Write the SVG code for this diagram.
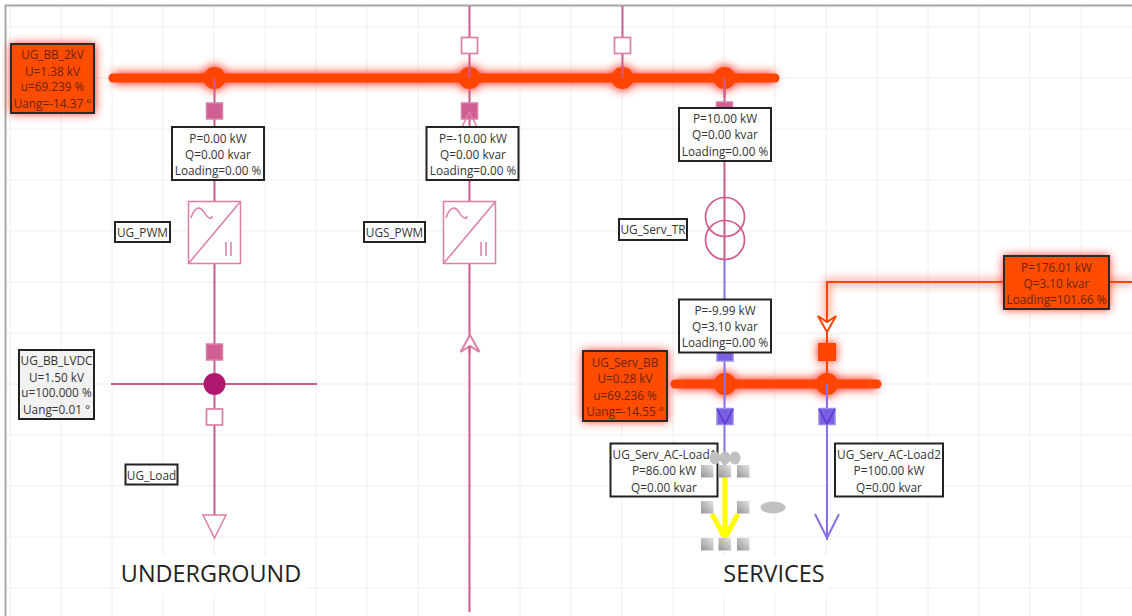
<svg xmlns="http://www.w3.org/2000/svg" width="1132" height="616" viewBox="0 0 1132 616">
<defs>
<filter id="glow" x="-30%" y="-60%" width="160%" height="220%"><feGaussianBlur stdDeviation="5"/></filter>
<linearGradient id="hg" x1="0" y1="1" x2="1" y2="0"><stop offset="0" stop-color="#959595"/><stop offset="1" stop-color="#e4e4e4"/></linearGradient>
<g id="conv"><rect x="0.5" y="0.5" width="52" height="62" class="sym"/><path d="M0.5 62.500L52.500 0.500M3 17C7 5 12 5 16 11C20 18 24 19 24 15M38 41V55M43 41V55" class="symn"/></g>
<rect id="hd" width="12.500" height="12.500" fill="url(#hg)"/>
</defs>
<style>
text{font-family:"Open Sans","Noto Sans","Liberation Sans",sans-serif;font-size:11.800px;fill:#333;text-anchor:middle}
.g{stroke:#eeeeee;stroke-width:1;fill:none}
.sym{fill:#fff;stroke:#dc7ea6;stroke-width:1.500}
.symn{fill:none;stroke:#dc7ea6;stroke-width:1.500}
.pk{stroke:#cf5a8e;stroke-width:2;fill:none}
.bl{stroke:#8a70e6;stroke-width:2;fill:none}
.or{stroke:#ff4500;stroke-width:2;fill:none}
.bar{stroke:#ff4500;stroke-width:9;stroke-linecap:round;fill:none}
.lb{fill:#fff;stroke:#222;stroke-width:2}
.hot{fill:#ff4c00;stroke:#2a2a2a;stroke-width:2}
.hott{fill:#6a2408}
.sw{fill:#fff;stroke:#dc7ea6;stroke-width:1.700}
.sp{fill:#cf5f92;stroke:#dc7ea6;stroke-width:1.500}
.sb{fill:#7a5fe0;stroke:#9c88ea;stroke-width:1.500}
.title{font-size:23.400px;fill:#222}
</style>
<rect width="1132" height="616" fill="#fff"/>
<g id="grid">
<path class="g" d="M10 6V616M61 6V616M112 6V616M163 6V616M214 6V616M265 6V616M316 6V616M367 6V616M418 6V616M469 6V616M520 6V616M571 6V616M622 6V616M673 6V616M724 6V616M775 6V616M826 6V616M877 6V616M928 6V616M979 6V616M1030 6V616M1081 6V616M6 27H1132M6 78H1132M6 129H1132M6 180H1132M6 231H1132M6 282H1132M6 333H1132M6 384H1132M6 435H1132M6 486H1132M6 537H1132M6 588H1132"/>
<rect x="120" y="556" width="186" height="38" fill="#fff"/>
<rect x="722" y="556" width="106" height="38" fill="#fff"/>
<path d="M5.500 616V5.500H1132" fill="none" stroke="#a6a6a6" stroke-width="2"/>
</g>
<g id="glows" filter="url(#glow)" fill="#ff3020" stroke="#ff3020">
<path d="M113 78H775M675 384H877" stroke-width="11" fill="none"/>
<circle cx="214.500" cy="78" r="12"/><circle cx="469.500" cy="78" r="12"/><circle cx="622.500" cy="78" r="12"/><circle cx="724.500" cy="78" r="12"/><circle cx="725" cy="384" r="12"/><circle cx="827" cy="384" r="12"/>
<rect x="11" y="44" width="84" height="69"/><rect x="583" y="351" width="84" height="70"/><rect x="1004" y="256" width="105" height="53"/>
<path d="M827 320V282H1004M1109 282H1132" fill="none" stroke-width="3"/>
<rect x="818" y="343" width="18" height="18"/>
</g>
<g id="connectors">
<path class="pk" d="M214.500 78V515M469.500 6V612M622.500 6V78M724.500 78V260"/>
<path class="pk" d="M111 384H317"/>
<path class="bl" d="M724.500 260V540M827 384V540"/>
<path class="or" d="M827 384V282H1132"/>
</g>
<g id="bus-UG_BB_2kV"><path class="bar" d="M113 78H775"/><circle cx="214.500" cy="78" r="11" fill="#ff4500"/><circle cx="469.500" cy="78" r="11" fill="#ff4500"/><circle cx="622.500" cy="78" r="11" fill="#ff4500"/><circle cx="724.500" cy="78" r="11" fill="#ff4500"/>
<path class="pk" d="M214.500 78V88M469.500 66V78M622.500 66V78M724.500 78V98" stroke="#b8406f"/></g>
<g id="bus-UG_Serv_BB"><path class="bar" d="M675 384H877"/><circle cx="725" cy="384" r="11" fill="#ff4500"/><circle cx="827" cy="384" r="11" fill="#ff4500"/><path class="bl" d="M725 373V395M827 384V395"/></g>
<g id="bus-UG_BB_LVDC"><circle cx="214.500" cy="384" r="11" fill="#b0186f"/></g>
<g id="sw-1"><rect x="206.500" y="103" width="16" height="16" class="sp"/></g>
<g id="sw-2"><rect x="206.500" y="344" width="16" height="16" class="sp"/></g>
<g id="sw-3"><rect x="206.500" y="409" width="16" height="16" class="sw"/></g>
<g id="sw-4"><rect x="461.500" y="37.500" width="16" height="16" class="sw"/></g>
<g id="sw-5"><rect x="614.500" y="37.500" width="16" height="16" class="sw"/></g>
<g id="sw-6"><rect x="461.500" y="103" width="16" height="16" class="sp"/><path class="symn" d="M462 127L469.500 112L477 127"/></g>
<g id="sw-7"><rect x="716.500" y="102" width="16" height="10" class="sp"/></g>
<g id="sw-8"><rect x="717" y="345" width="16" height="16" class="sb"/></g>
<g id="sw-9"><rect x="717" y="408.500" width="16" height="16" class="sb"/><path d="M717 409L725 424L733 409" fill="none" stroke="#5030c8" stroke-width="1.200"/></g>
<g id="sw-10"><rect x="819" y="408.500" width="16" height="16" class="sb"/><path d="M819 409L827 424L835 409" fill="none" stroke="#5030c8" stroke-width="1.200"/></g>
<g id="sw-11"><rect x="818" y="343" width="18" height="18" fill="#ff4500"/></g>
<g id="arrow-top"><path d="M818 316L827 332L836 316L827 322Z" fill="#fff" stroke="#ff4500" stroke-width="2"/></g>
<g id="arrow-mid"><path d="M460.500 352L470 335L479.500 352L470 346Z" fill="#fff" stroke="#dc7ea6" stroke-width="2"/><path class="pk" d="M469.500 346V353"/></g>
<g id="UG_Load_sym"><path d="M203 515H226L214.500 538Z" class="sym"/></g>
<g id="UG_PWM_sym"><use href="#conv" x="188" y="201"/></g>
<g id="UGS_PWM_sym"><use href="#conv" x="443" y="201"/></g>
<g id="UG_Serv_TR_sym"><circle cx="725" cy="217" r="19.500" fill="none" stroke="#d05a8e" stroke-width="1.700"/><circle cx="725" cy="240" r="19.500" fill="none" stroke="#d05a8e" stroke-width="1.700"/></g>
<g id="load2"><path class="bl" d="M815 514L827 538L839 514"/></g>
<g id="load1"><path d="M725 477V536M712 514L725 538L738 514" fill="none" stroke="#ffff00" stroke-width="5"/></g>
<g id="UG_BB_2kV"><rect x="11" y="44" width="83" height="69" class="hot"/><text class="hott" x="52.500" y="59">UG_BB_2kV</text><text class="hott" x="52.500" y="76">U=1.38 kV</text><text class="hott" x="52.500" y="91">u=69.239 %</text><text class="hott" x="52.500" y="108">Uang=-14.37 °</text></g>
<g id="UG_BB_LVDC"><rect x="19" y="350" width="75" height="69" fill="#f2f2f2" stroke="#222" stroke-width="2"/><text x="56.500" y="365">UG_BB_LVDC</text><text x="56.500" y="382">U=1.50 kV</text><text x="56.500" y="397">u=100.000 %</text><text x="56.500" y="414">Uang=0.01 °</text></g>
<g id="UG_Serv_BB"><rect x="583" y="351" width="84" height="70" class="hot"/><text class="hott" x="625" y="367">UG_Serv_BB</text><text class="hott" x="625" y="383">U=0.28 kV</text><text class="hott" x="625" y="400">u=69.236 %</text><text class="hott" x="625" y="416">Uang=-14.55 °</text></g>
<g id="res-1"><rect x="172" y="127" width="92" height="53" class="lb"/><text x="218" y="143">P=0.00 kW</text><text x="218" y="159">Q=0.00 kvar</text><text x="218" y="175">Loading=0.00 %</text></g>
<g id="res-2"><rect x="426.500" y="127" width="92" height="53" class="lb"/><text x="473" y="143">P=-10.00 kW</text><text x="473" y="159">Q=0.00 kvar</text><text x="473" y="175">Loading=0.00 %</text></g>
<g id="res-3"><rect x="679" y="108" width="92" height="53" class="lb"/><text x="725" y="123">P=10.00 kW</text><text x="725" y="139">Q=0.00 kvar</text><text x="725" y="156">Loading=0.00 %</text></g>
<g id="res-4"><rect x="679" y="299.500" width="92" height="53" class="lb"/><text x="725" y="315">P=-9.99 kW</text><text x="725" y="331">Q=3.10 kvar</text><text x="725" y="347">Loading=0.00 %</text></g>
<g id="res-5"><rect x="1004" y="256" width="105" height="53" class="hot"/><text class="hott" x="1056.500" y="272">P=176.01 kW</text><text class="hott" x="1056.500" y="288">Q=3.10 kvar</text><text class="hott" x="1056.500" y="304">Loading=101.66 %</text></g>
<g id="UG_Serv_AC-Load1"><rect x="610.500" y="443.500" width="107" height="53" class="lb"/><text x="664.500" y="459">UG_Serv_AC-Load1</text><text x="664" y="475">P=86.00 kW</text><text x="664" y="492">Q=0.00 kvar</text></g>
<g id="UG_Serv_AC-Load2"><rect x="835" y="443.500" width="108" height="53" class="lb"/><text x="889" y="459">UG_Serv_AC-Load2</text><text x="889" y="475">P=100.00 kW</text><text x="889" y="492">Q=0.00 kvar</text></g>
<g id="UG_PWM"><rect x="115" y="222" width="55" height="20" class="lb"/><text x="142.500" y="237">UG_PWM</text></g>
<g id="UGS_PWM"><rect x="364" y="222" width="61" height="20" class="lb"/><text x="394.500" y="237">UGS_PWM</text></g>
<g id="UG_Serv_TR"><rect x="619" y="219" width="68" height="21" class="lb"/><text x="653" y="234">UG_Serv_TR</text></g>
<g id="UG_Load"><rect x="125.500" y="464.500" width="52" height="20" class="lb"/><text x="151.500" y="480">UG_Load</text></g>
<g id="handles" fill="#c0c0c0">
<ellipse cx="715" cy="458" rx="5.500" ry="6.500"/><ellipse cx="725" cy="458" rx="5.500" ry="6.500"/><ellipse cx="735" cy="458" rx="5.500" ry="6.500"/><ellipse cx="773" cy="507.500" rx="12.500" ry="6"/>
<use href="#hd" x="701" y="465"/><use href="#hd" x="718.500" y="465"/><use href="#hd" x="737" y="465"/><use href="#hd" x="701" y="501"/><use href="#hd" x="737" y="501"/><use href="#hd" x="701" y="538"/><use href="#hd" x="718.500" y="538"/><use href="#hd" x="737" y="538"/>
</g>
<text class="title" x="211" y="582">UNDERGROUND</text>
<text class="title" x="774" y="582">SERVICES</text>
</svg>
